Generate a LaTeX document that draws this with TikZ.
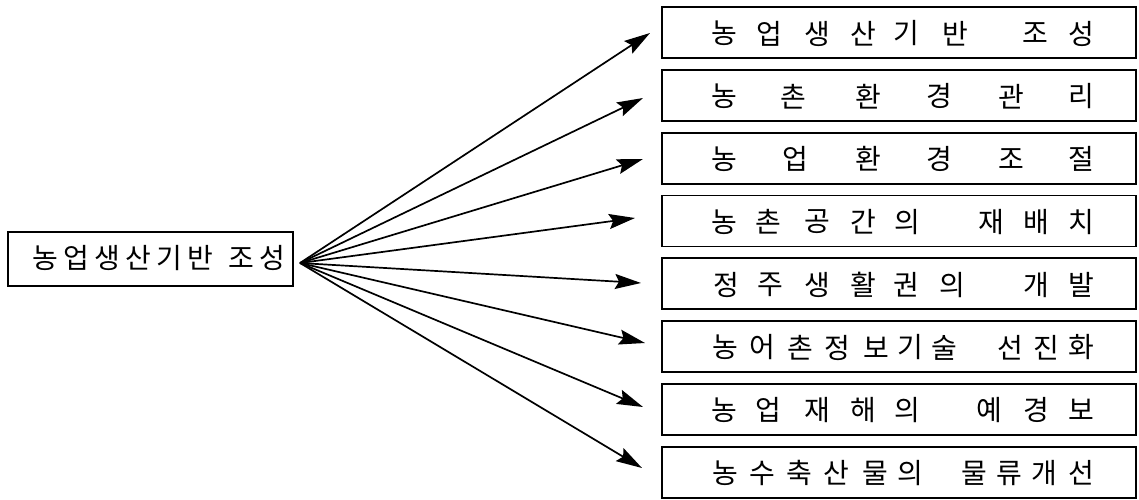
\documentclass[tikz,border=0pt]{standalone}
\usepackage{fontspec}
\newfontfamily\kr{Noto Sans CJK KR}
\usetikzlibrary{arrows.meta}
\begin{document}
\begin{tikzpicture}[x=1pt,y=-1pt,
  box/.style={draw,line width=1.8pt,minimum width=474pt,minimum height=51pt,inner sep=0pt},
  srcbox/.style={draw,line width=2pt,minimum width=285pt,minimum height=54pt,inner sep=0pt},
  ch/.style={font=\kr\fontsize{28}{28}\selectfont,inner sep=0pt,anchor=center},
  arr/.style={line width=1.7pt,-{Stealth[length=26pt,width=15pt,inset=4pt]}}]
\useasboundingbox (0,0) rectangle (1139,499);
% source box
\node[srcbox] (src) at (150.5,259) {};
\foreach \x/\c [count=\j] in {45/농,76/업,107/생,138/산,169/기,200/반,241/조,272/성}
  \node[ch] (s\j) at (\x,258) {\c};
\coordinate (hub) at (300,263);
% target boxes
\foreach \i in {1,...,8}
  \node[box] (b\i) at (899,{32.5+62.8*(\i-1)}) {};
% texts
\def\row#1#2{\foreach \x/\c [count=\j] in {#2} \node[ch] (b#1c\j) at (\x,{33.5+62.8*(#1-1)}) {\c};}
\row{1}{724/농,769/업,817/생,863/산,906/기,955/반,1035/조,1081/성}
\row{2}{724/농,793/촌,868/환,939/경,1011/관,1081/리}
\row{3}{724/농,795/업,868/환,939/경,1011/조,1081/절}
\row{4}{724/농,768/촌,817/공,863/간,907/의,991/재,1036/배,1081/치}
\row{5}{726/정,770/주,817/생,863/활,906/권,952/의,1036/개,1081/발}
\row{6}{725/농,762/어,800/촌,837/정,876/보,910/기,944/술,1010/선,1046/진,1081/화}
\row{7}{724/농,768/업,817/재,863/해,907/의,989/예,1036/경,1081/보}
\row{8}{725/농,762/수,799/축,836/산,875/물,910/의,974/물,1009/류,1044/개,1081/선}
% arrow tips
\coordinate (t1) at (650,33);
\coordinate (t2) at (643,98);
\coordinate (t3) at (643,159);
\coordinate (t4) at (635,218);
\coordinate (t5) at (641,283);
\coordinate (t6) at (645,343);
\coordinate (t7) at (643,407);
\coordinate (t8) at (642,468);
\foreach \i in {1,...,8} \draw[arr] (hub) -- (t\i);
\end{tikzpicture}
\end{document}
